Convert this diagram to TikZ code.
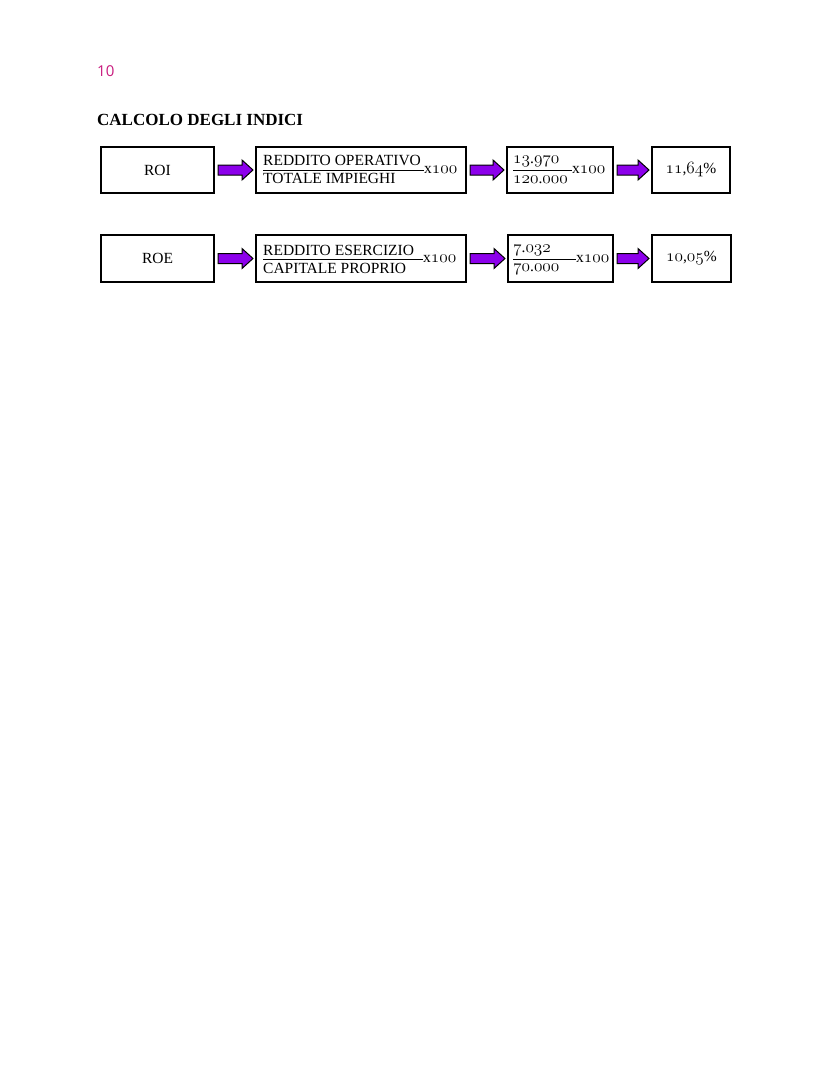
\documentclass[tikz,border=0pt]{standalone}
\usepackage{fontspec}
\setmainfont{Liberation Serif}
\newfontfamily\pagefont{Open Sans}
\usetikzlibrary{calc}
\definecolor{arrowpurple}{RGB}{140,0,235}
\definecolor{pagenum}{RGB}{200,25,125}
\newcommand\osn[1]{{\fontsize{17}{20}\usefont{OML}{cmm}{m}{it}#1}}
\tikzset{
  box/.style={draw=black, line width=1.6pt, inner sep=0pt, font=\fontsize{15.5}{18}\selectfont},
  txt/.style={inner sep=0pt, font=\fontsize{15.5}{18}\selectfont},
  fatarrowstyle/.style={fill=arrowpurple, draw=black, line width=1pt},
  fracline/.style={line width=1pt}
}
\newcommand\fatarrow[2]{%
  \path[fatarrowstyle] let \p1=($(#1.east)+(3,0)$), \p2=($(#2.west)+(-2,0)$) in
    (\x1,\y1+5pt) -- (\x2-11pt,\y1+5pt) -- (\x2-11pt,\y1+10pt) -- (\x2,\y1)
    -- (\x2-11pt,\y1-10pt) -- (\x2-11pt,\y1-5pt) -- (\x1,\y1-5pt) -- cycle;}
\begin{document}
\begin{tikzpicture}[x=1pt,y=-1pt]
\useasboundingbox[fill=white] (0,0) rectangle (828,1071);
% header
\node[anchor=base west, inner sep=0pt, font=\pagefont\fontsize{15}{18}\selectfont, text=pagenum] (page) at (97,76.5) {10};
\node[anchor=base west, inner sep=0pt, font=\fontsize{17}{20}\selectfont\bfseries] (title) at (97,125.5) {CALCOLO DEGLI INDICI};
% row 1
\node[box, minimum width=113.4, minimum height=46.4] (roi) at (157.5,170) {ROI};
\node[box, minimum width=210.4, minimum height=46.4] (f1) at (361,170) {};
\node[txt, anchor=base west] (n1) at (263,165) {REDDITO OPERATIVO};
\node[txt, anchor=base west] (d1) at (263,183) {TOTALE IMPIEGHI};
\node[txt, anchor=west] (x1) at (424,170) {x\osn{100}};
\draw[fracline] (n1.west |- x1.west) -- (x1.west);
\node[box, minimum width=106.4, minimum height=46.4] (v1) at (560,170) {};
\node[txt, anchor=base west] (vn1) at (513,163) {\osn{13}.\osn{970}};
\node[txt, anchor=base west] (vd1) at (513,183) {\osn{120}.\osn{000}};
\node[txt, anchor=west] (vx1) at (572,170) {x\osn{100}};
\draw[fracline] (vn1.west |- vx1.west) -- (vx1.west);
\node[box, minimum width=78.4, minimum height=46.4] (r1) at (691,170) {\osn{11},\osn{64}\%};
\fatarrow{roi}{f1}
\fatarrow{f1}{v1}
\fatarrow{v1}{r1}
% row 2
\node[box, minimum width=113.4, minimum height=47.4] (roe) at (157.5,258.5) {ROE};
\node[box, minimum width=210.4, minimum height=47.4] (f2) at (361,258.5) {};
\node[txt, anchor=base west] (n2) at (263,255) {REDDITO ESERCIZIO};
\node[txt, anchor=base west] (d2) at (263,273) {CAPITALE PROPRIO};
\node[txt, anchor=west] (x2) at (423,259) {x\osn{100}};
\draw[fracline] (n2.west |- x2.west) -- (x2.west);
\node[box, minimum width=105.4, minimum height=47.4] (v2) at (560.5,258.5) {};
\node[txt, anchor=base west] (vn2) at (513,252) {\osn{7}.\osn{032}};
\node[txt, anchor=base west] (vd2) at (513,271) {\osn{70}.\osn{000}};
\node[txt, anchor=west] (vx2) at (576,259) {x\osn{100}};
\draw[fracline] (vn2.west |- vx2.west) -- (vx2.west);
\node[box, minimum width=79.4, minimum height=47.4] (r2) at (691.5,258.5) {\osn{10},\osn{05}\%};
\fatarrow{roe}{f2}
\fatarrow{f2}{v2}
\fatarrow{v2}{r2}
\end{tikzpicture}
\end{document}
